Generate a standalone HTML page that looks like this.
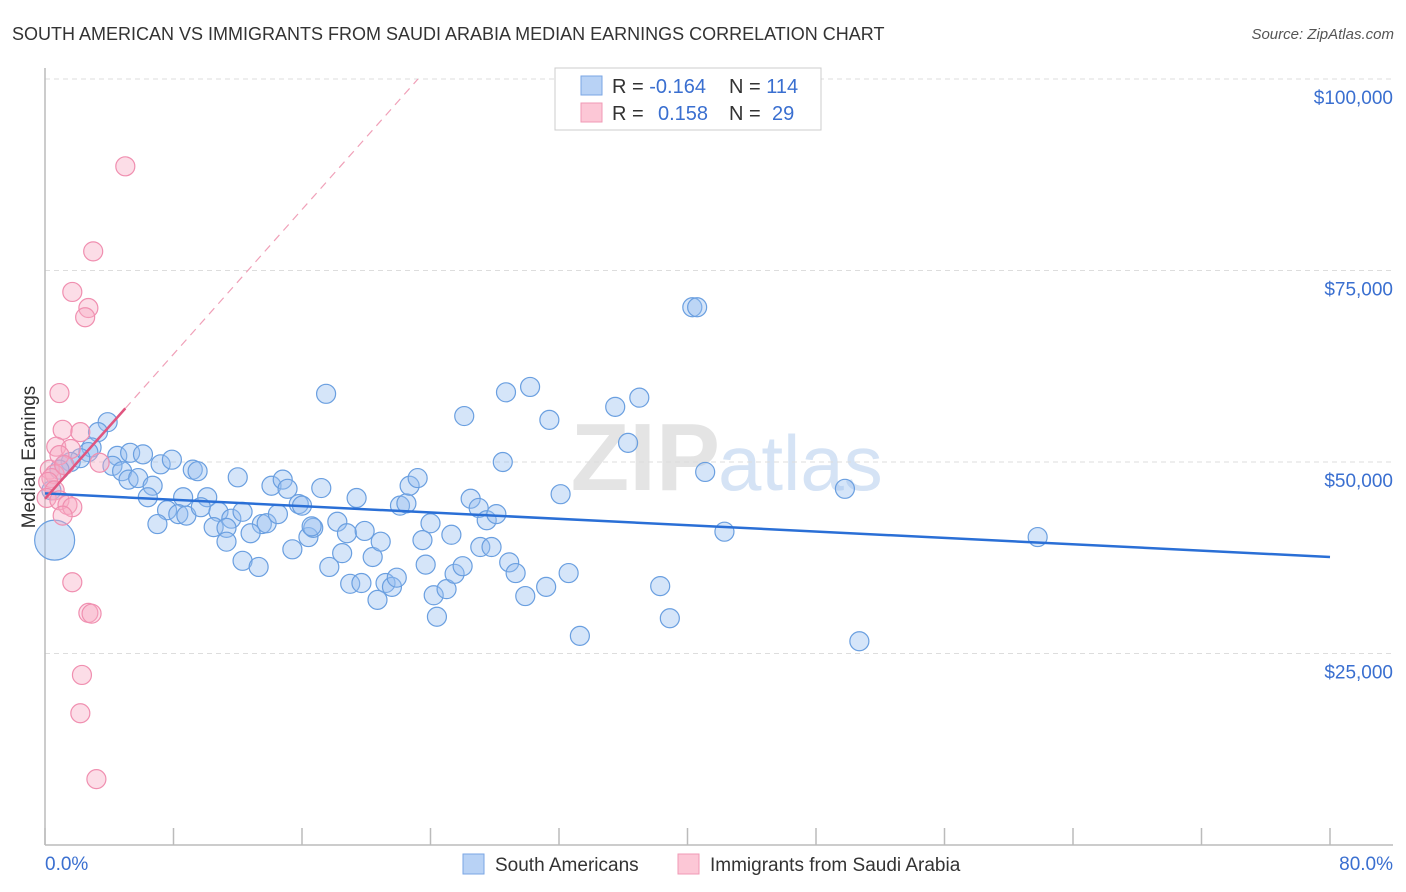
<!DOCTYPE html>
<html><head><meta charset="utf-8"><style>
body{margin:0;background:#fff;font-family:"Liberation Sans",sans-serif}
svg{display:block}
</style></head><body>
<svg width="1406" height="892" xmlns="http://www.w3.org/2000/svg">
<text x="12" y="40" font-size="18" fill="#333">SOUTH AMERICAN VS IMMIGRANTS FROM SAUDI ARABIA MEDIAN EARNINGS CORRELATION CHART</text>
<text x="1394" y="39" font-size="15" fill="#555" font-style="italic" text-anchor="end">Source: ZipAtlas.com</text>
<text x="720" y="490" font-size="96" fill="#e4e4e4" text-anchor="end" font-weight="bold">ZIP</text>
<text x="718" y="490" font-size="78" fill="#d5e3f5">atlas</text>
<g id="grid"></g>
<g id="axes"></g>
<g id="pts"></g>
<g id="lines"></g>
<text transform="translate(35,457) rotate(-90)" font-size="19" fill="#333" text-anchor="middle">Median Earnings</text>
<text x="45" y="870" font-size="19" fill="#3a6fd0">0.0%</text>
<text x="1393" y="870" font-size="19" fill="#3a6fd0" text-anchor="end">80.0%</text>
<g>
<rect x="555" y="68" width="266" height="62" fill="#fff" stroke="#ccc"/>
<rect x="581" y="76" width="21" height="19" fill="#b8d2f5" stroke="#7aa6e4"/>
<rect x="581" y="103" width="21" height="19" fill="#fcc7d6" stroke="#f09ab5"/>
<text x="612" y="93" font-size="20" fill="#333">R = <tspan fill="#3a6fd0">-0.164</tspan></text>
<text x="729" y="93" font-size="20" fill="#333">N = <tspan fill="#3a6fd0">114</tspan></text>
<text x="612" y="120" font-size="20" fill="#333">R = <tspan fill="#3a6fd0" x="658">0.158</tspan></text>
<text x="729" y="120" font-size="20" fill="#333">N = <tspan fill="#3a6fd0" x="772">29</tspan></text>
</g>
<g>
<rect x="463" y="854" width="21" height="20" fill="#b8d2f5" stroke="#7aa6e4"/>
<text x="495" y="871" font-size="19" fill="#333">South Americans</text>
<rect x="678" y="854" width="21" height="20" fill="#fcc7d6" stroke="#f09ab5"/>
<text x="710" y="871" font-size="19" fill="#333">Immigrants from Saudi Arabia</text>
</g>
</svg>
<script>
const yTicks=[25000,50000,75000,100000];
const yTickLabels=["$25,000","$50,000","$75,000","$100,000"];
const xTicks=[0,8,16,24,32,40,48,56,64,72,80];
const blueX=[3.9,3.3,2.9,2.7,2.2,1.6,1.2,4.5,5.3,6.1,4.2,4.8,5.2,5.8,6.7,7.2,7.9,9.2,9.5,12.0,6.4,8.6,10.1,7.6,8.3,8.8,7.0,9.7,10.8,11.6,10.5,11.3,12.3,13.5,13.8,12.8,11.3,12.3,13.3,14.1,14.8,15.1,14.5,15.8,16.0,17.2,15.4,16.4,16.7,16.6,17.7,18.5,18.2,18.8,19.4,19.0,19.7,19.9,20.4,20.9,20.7,21.2,21.6,21.9,22.1,22.5,22.7,23.2,24.0,23.5,23.7,24.2,25.0,25.3,25.5,26.0,24.4,26.5,27.0,27.5,28.1,27.1,27.8,28.9,29.3,29.9,31.2,32.6,28.5,28.7,30.2,26.1,31.4,32.1,33.3,35.5,36.3,37.0,38.3,38.9,40.3,40.6,41.1,42.3,49.8,50.7,61.8,17.5,0.9,0.4];
const blueY=[55.2,53.9,51.9,51.3,50.5,50.0,49.6,50.8,51.2,51.0,49.5,48.8,47.7,47.9,46.9,49.7,50.3,49.0,48.8,48.0,45.4,45.4,45.4,43.7,43.2,43.0,41.9,44.1,43.5,42.6,41.5,41.4,43.5,41.9,42.0,40.7,39.6,37.1,36.3,46.9,47.7,46.5,43.2,44.5,44.3,46.6,38.6,40.2,41.4,41.6,36.3,38.1,42.2,40.7,45.3,34.1,34.2,41.0,37.6,39.6,32.0,34.2,33.7,34.9,44.3,44.6,46.9,47.9,42.0,39.8,36.6,32.6,33.4,40.5,35.4,36.4,29.8,45.2,44.0,42.4,43.2,38.9,38.9,36.9,35.5,32.5,33.7,35.5,50.0,59.1,59.8,56.0,55.5,45.8,27.3,57.2,52.5,58.4,33.8,29.6,70.2,70.2,48.7,40.9,46.5,26.6,40.2,58.9,49.0,46.3];
const bigBlueX=[0.6], bigBlueY=[39.8];
const pinkX=[5.0,3.0,1.7,2.7,2.5,0.9,1.1,2.2,0.7,1.6,3.4,0.3,0.6,0.4,0.2,0.6,0.1,0.9,1.4,1.7,1.1,1.7,2.7,2.9,2.3,2.2,3.2,0.9,1.2];
const pinkY=[88.6,77.5,72.2,70.1,68.9,59.0,54.2,53.9,52.0,51.7,49.9,49.0,48.4,47.9,47.4,46.3,45.3,45.0,44.4,44.1,43.0,34.3,30.3,30.2,22.2,17.2,8.6,50.9,49.6];
const blueTrend=[45.9,37.6]; // at x=0 and x=80 (thousands)
const pinkTrend=[45.2,2.36]; // intercept, slope per %
const NS="http://www.w3.org/2000/svg";
const X=v=>45+v/80*1285, Y=k=>845-k/100*766;
function mk(t,a,p){const e=document.createElementNS(NS,t);for(const k in a)e.setAttribute(k,a[k]);document.getElementById(p).appendChild(e);return e;}
yTicks.forEach((t,i)=>{
 const l=mk('line',{x1:45,x2:1393,y1:Y(t/1000),y2:Y(t/1000),stroke:'#ddd','stroke-dasharray':'5,4'},'grid');
 
 
 const tx=mk('text',{x:1393,y:Y(t/1000)+25,'font-size':19,fill:'#3a6fd0','text-anchor':'end'},'grid');
 tx.textContent=yTickLabels[i];
 
 
});
const ax=mk('line',{x1:45,x2:45,y1:68,y2:845,stroke:'#bbb','stroke-width':1.5},'axes');


const bx=mk('line',{x1:45,x2:1393,y1:845,y2:845,stroke:'#bbb','stroke-width':1.5},'axes');


xTicks.forEach(t=>{const l=mk('line',{x1:X(t),x2:X(t),y1:828,y2:845,stroke:'#bbb','stroke-width':1.5},'axes');
 
 });
blueX.forEach((x,i)=>{const c=mk('circle',{cx:X(x),cy:Y(blueY[i]),r:9.5,fill:'rgba(150,190,240,0.4)',stroke:'#6a9fe0','stroke-width':1.2},'pts');
 
 });
bigBlueX.forEach((x,i)=>{const c=mk('circle',{cx:X(x),cy:Y(bigBlueY[i]),r:20,fill:'rgba(150,190,240,0.4)',stroke:'#6a9fe0','stroke-width':1.2},'pts');
 
 });
pinkX.forEach((x,i)=>{const c=mk('circle',{cx:X(x),cy:Y(pinkY[i]),r:9.5,fill:'rgba(248,170,195,0.4)',stroke:'#f08fb0','stroke-width':1.2},'pts');
 
 });
const bt=mk('line',{x1:X(0),y1:Y(blueTrend[0]),x2:X(80),y2:Y(blueTrend[1]),stroke:'#2a6fd6','stroke-width':2.5},'lines');


const xe=(100-pinkTrend[0])/pinkTrend[1];
const pd=mk('line',{x1:X(5),y1:Y(pinkTrend[0]+5*pinkTrend[1]),x2:X(xe),y2:Y(100),stroke:'#f0a0b8','stroke-width':1.2,'stroke-dasharray':'8,6'},'lines');


const pt=mk('line',{x1:X(0),y1:Y(pinkTrend[0]),x2:X(5),y2:Y(pinkTrend[0]+5*pinkTrend[1]),stroke:'#e0557f','stroke-width':2.5},'lines');


</script>
</body></html>
